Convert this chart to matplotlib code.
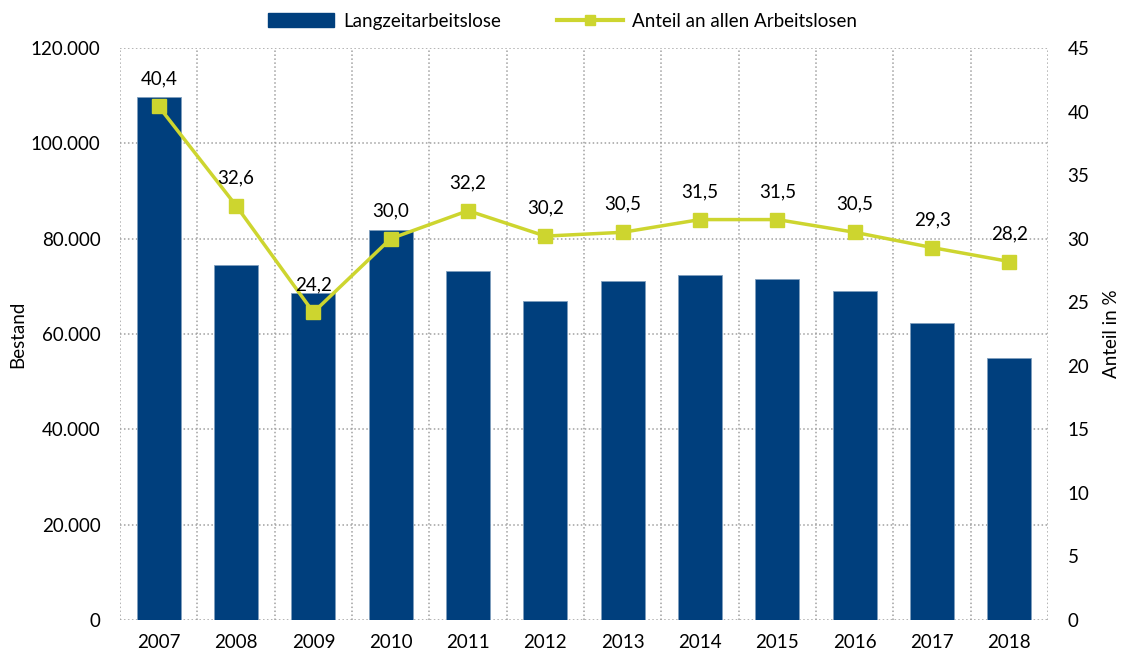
import matplotlib
matplotlib.use('Agg')
import matplotlib.pyplot as plt
from matplotlib.ticker import FuncFormatter, MultipleLocator
from matplotlib.lines import Line2D
from matplotlib.patches import Patch
import numpy as np

plt.rcParams['font.family'] = ['Lato', 'DejaVu Sans']
plt.rcParams['font.size'] = 13.5

years = ['2007', '2008', '2009', '2010', '2011', '2012',
         '2013', '2014', '2015', '2016', '2017', '2018']
bestand = [109700, 74500, 68600, 81800, 73200, 67000,
           71100, 72400, 71600, 69100, 62300, 54900]
anteil = [40.4, 32.6, 24.2, 30.0, 32.2, 30.2, 30.5, 31.5, 31.5, 30.5, 29.3, 28.2]

bar_color = '#003f7d'
line_color = '#cdd52f'
grid_color = '#a0a0a0'

fig = plt.figure(figsize=(11.25, 6.57), dpi=100)
ax = fig.add_axes([0.1067, 0.0563, 0.8249, 0.8707])
ax2 = ax.twinx()

x = np.arange(len(years))
ax.bar(x, bestand, width=0.57, color=bar_color, edgecolor='#7f9fbe', linewidth=0.6, zorder=2)

ax.set_xlim(-0.5, len(years) - 0.5)
ax.set_ylim(0, 120000)
ax.yaxis.set_major_locator(MultipleLocator(20000))
ax.yaxis.set_major_formatter(FuncFormatter(lambda v, p: f'{int(v):,}'.replace(',', '.')))
ax.set_xticks(x)
ax.set_xticklabels(years)

# dotted grid: horizontal at ticks, vertical between categories
for yv in range(0, 120001, 20000):
    ax.axhline(yv, color=grid_color, linestyle=(0, (1, 1.6)), linewidth=1.1, zorder=1)
for xv in np.arange(-0.5, len(years), 1.0):
    ax.axvline(xv, color=grid_color, linestyle=(0, (1, 1.6)), linewidth=1.1, zorder=1)

for a in (ax, ax2):
    for s in a.spines.values():
        s.set_visible(False)
    a.tick_params(length=0)
ax.tick_params(axis='x', pad=10)
ax.tick_params(axis='y', pad=14)
ax2.tick_params(axis='y', pad=14)

ax2.plot(x, anteil, color=line_color, linewidth=2.5, marker='s', markersize=10, zorder=3)
ax2.set_ylim(0, 45)
ax2.yaxis.set_major_locator(MultipleLocator(5))
for xi, v in zip(x, anteil):
    ax2.annotate(f'{v:.1f}'.replace('.', ','), (xi, v), textcoords='offset points',
                 xytext=(0, 14), ha='center', va='bottom')

ax.set_ylabel('Bestand', labelpad=3)
ax2.set_ylabel('Anteil in %', labelpad=10)
ax.set_zorder(ax2.get_zorder() - 1)
ax.patch.set_visible(False)

handles = [Patch(facecolor=bar_color, edgecolor=bar_color),
           Line2D([0], [0], color=line_color, linewidth=3, marker='s', markersize=7)]
fig.legend(handles, ['Langzeitarbeitslose', 'Anteil an allen Arbeitslosen'],
           loc='center', bbox_to_anchor=(0.5, 0.968), ncol=2, frameon=False,
           handlelength=3.5, columnspacing=3.0, handletextpad=0.5)

fig.savefig('out.png', dpi=100)
